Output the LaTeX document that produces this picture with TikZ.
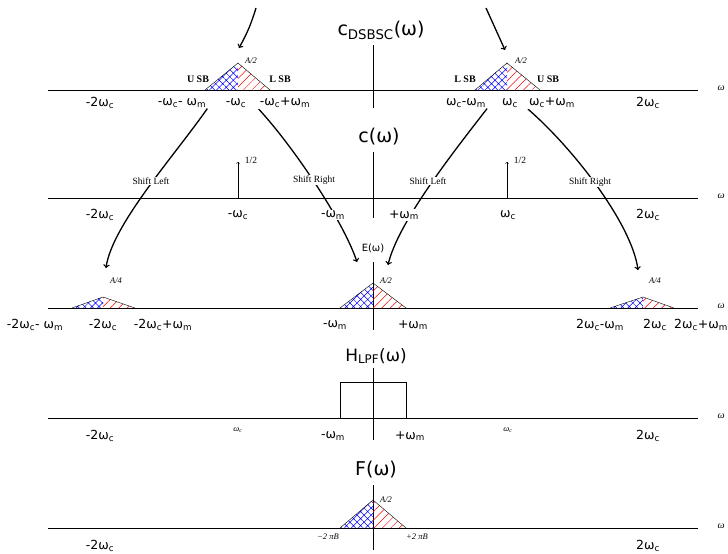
\documentclass[tikz,border=0pt]{standalone}
\usepackage{fontspec}
\setmainfont{DejaVu Sans}
\newfontfamily\tinyserif{Liberation Serif}
\usetikzlibrary{patterns.meta,backgrounds}

\newcommand{\wc}{ω\textsubscript{c}}
\newcommand{\wm}{ω\textsubscript{m}}
% sideband triangle: left x, apex x, right x, base y, apex y
\newcommand{\bandtri}[5]{%
  \fill[pattern={Hatch[angle=45,distance=5pt,line width=0.5pt]}, pattern color=blue]
    (#1,#4) -- (#2,#5) -- (#2,#4) -- cycle;
  \fill[pattern={Lines[angle=45,distance=6pt,line width=0.5pt]}, pattern color=red]
    (#2,#4) -- (#2,#5) -- (#3,#4) -- cycle;
  \draw[thin] (#1,#4) -- (#2,#5) -- (#3,#4);}

\begin{document}
\begin{tikzpicture}[x=1pt,y=-1pt,
    axis/.style={line width=0.7pt},
    lbl/.style={font=\fontsize{12.5}{14}\selectfont, inner sep=1pt, fill=white},
    ttl/.style={font=\fontsize{19}{22}\selectfont, inner sep=1pt},
    amp/.style={font=\tinyserif\itshape\fontsize{8.5}{10}\selectfont, inner sep=1pt},
    sb/.style={font=\tinyserif\bfseries\fontsize{10}{11}\selectfont, inner sep=1pt},
    shiftlbl/.style={font=\tinyserif\fontsize{9.5}{11}\selectfont, inner sep=1pt, fill=white},
    wlbl/.style={font=\tinyserif\itshape\fontsize{10}{12}\selectfont, anchor=west},
    flow/.style={->, line width=1.3pt}]

    \useasboundingbox (0,0) rectangle (728,554);

    % axes
    \foreach \ya/\yt/\yb in {90/45/108, 198/152/218, 308/262/330, 418/368/440, 528/485/550} {
        \draw[axis] (48,\ya) -- (698,\ya);
        \draw[axis] (373,\yt) -- (373,\yb);
        \node[wlbl] (w\ya) at (714,\ya-2) {ω};
    }

    % DSB-SC spectrum
    \node[ttl] (cdsb) at (381,30) {c\textsubscript{DSBSC}(ω)};
    \bandtri{205}{238}{270}{90}{63}
    \bandtri{475}{507}{540}{90}{63}
    \node[amp] (ampL) at (251,61) {A/2};
    \node[amp] (ampR) at (521,61) {A/2};
    \node[sb] (usbL) at (198,79) {U SB};
    \node[sb] (lsbL) at (280,79) {L SB};
    \node[sb] (lsbR) at (465,79) {L SB};
    \node[sb] (usbR) at (548,79) {U SB};
    \node[lbl] (a1) at (100,103) {-2\wc};
    \node[lbl] (a2) at (182,103) {-\wc- \wm};
    \node[lbl] (a3) at (236,103) {-\wc};
    \node[lbl] (a4) at (285,103) {-\wc+\wm};
    \node[lbl] (a5) at (466,103) {\wc-\wm};
    \node[lbl] (a6) at (510,103) {\wc};
    \node[lbl] (a7) at (552,103) {\wc+\wm};
    \node[lbl] (a8) at (648,103) {2\wc};

    % carrier
    \node[ttl] (cw) at (379,137) {c(ω)};
    \draw[->] (238,198) -- (238,162);
    \draw[->] (507,198) -- (507,162);
    \node[shiftlbl] (hL) at (251,160) {1/2};
    \node[shiftlbl] (hR) at (520,160) {1/2};
    \node[shiftlbl] (s1) at (151,181) {Shift Left};
    \node[shiftlbl] (s2) at (314,180) {Shift Right};
    \node[shiftlbl] (s3) at (428,181) {Shift Left};
    \node[shiftlbl] (s4) at (590,182) {Shift Right};
    \node[lbl] (b1) at (100,215) {-2\wc};
    \node[lbl] (b2) at (238,215) {-\wc};
    \node[lbl] (b3) at (333,215) {-\wm};
    \node[lbl] (b4) at (404,215) {+\wm};
    \node[lbl] (b5) at (508,215) {\wc};
    \node[lbl] (b6) at (648,215) {2\wc};

    % product spectrum
    \node[lbl, font=\fontsize{10}{12}\selectfont] (ew) at (373,248) {E(ω)};
    \bandtri{72}{103}{135}{308}{297}
    \bandtri{340}{373}{406}{308}{283}
    \bandtri{610}{643}{674}{308}{297}
    \node[amp] (e1) at (116,281) {A/4};
    \node[amp] (e2) at (386,281) {A/2};
    \node[amp] (e3) at (655,281) {A/4};
    \node[lbl] (d1) at (35,325) {-2\wc- \wm};
    \node[lbl] (d2) at (103,325) {-2\wc};
    \node[lbl] (d3) at (163,325) {-2\wc+\wm};
    \node[lbl] (d4) at (335,325) {-\wm};
    \node[lbl] (d5) at (413,325) {+\wm};
    \node[lbl] (d6) at (600,325) {2\wc-\wm};
    \node[lbl] (d7) at (655,325) {2\wc};
    \node[lbl] (d8) at (701,325) {2\wc+\wm};

    % low-pass filter
    \node[ttl, font=\fontsize{17}{20}\selectfont] (hlpf) at (376,356) {H\textsubscript{LPF}(ω)};
    \draw (340,418) rectangle (406,382);
    \node[lbl] (f1) at (100,436) {-2\wc};
    \node[amp] (f2) at (238,430) {ω\textsubscript{c}};
    \node[lbl] (f3) at (333,436) {-\wm};
    \node[lbl] (f4) at (410,436) {+\wm};
    \node[amp] (f5) at (508,430) {ω\textsubscript{c}};
    \node[lbl] (f6) at (648,436) {2\wc};

    % output
    \node[ttl] (fw) at (376,470) {F(ω)};
    \bandtri{340}{373}{406}{528}{500}
    \node[amp] (g1) at (386,500) {A/2};
    \node[amp] (g2) at (328,537) {−2 πB};
    \node[amp] (g3) at (417,537) {+2 πB};
    \node[lbl] (g4) at (100,546) {-2\wc};
    \node[lbl] (g5) at (648,546) {2\wc};

    % shifts
    \coordinate (srcL) at (256,8);
    \coordinate (srcR) at (486,8);
    \coordinate (tipL) at (239,48);
    \coordinate (tipR) at (505,50);
    \coordinate (t1) at (106,268);
    \coordinate (t2) at (357,262);
    \coordinate (t3) at (388,265);
    \coordinate (t4) at (638,270);
    \begin{scope}[on background layer]
        \draw[flow] (srcL) to[bend left=6] (tipL);
        \draw[flow] (srcR) -- (tipR);
        \draw[flow] (a2.south east) .. controls (175,155) and (112,225) .. (t1);
        \draw[flow] (a4.south west) .. controls (292,145) and (343,220) .. (t2);
        \draw[flow] (a5.south east) .. controls (455,150) and (398,222) .. (t3);
        \draw[flow] (a7.south west) .. controls (575,150) and (632,225) .. (t4);
    \end{scope}
\end{tikzpicture}
\end{document}
